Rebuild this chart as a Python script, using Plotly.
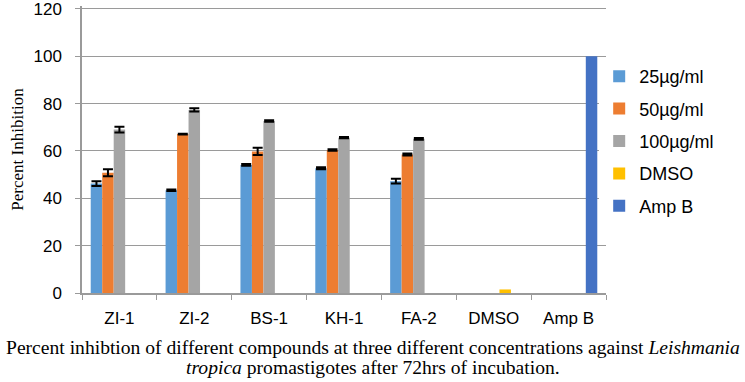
import plotly.graph_objects as go

categories = ["ZI-1", "ZI-2", "BS-1", "KH-1", "FA-2", "DMSO", "Amp B"]
series_names = ["25µg/ml", "50µg/ml", "100µg/ml", "DMSO", "Amp B"]
v25 = [46.2, 43.4, 54.1, 52.7, 47.2, None, None]
v50 = [50.8, 67.1, 59.8, 60.4, 58.5, None, None]
v100 = [69.0, 77.3, 72.6, 65.6, 65.1, None, None]
vdmso = [None, None, None, None, None, 1.5, None]
vampb = [None, None, None, None, None, None, 100]
e25 = [1.0, 0.3, 0.4, 0.4, 1.0, 0, 0]
e50 = [1.5, 0.2, 1.5, 0.3, 0.4, 0, 0]
e100 = [1.2, 0.7, 0.3, 0.3, 0.4, 0, 0]
colors = ["#5B9BD5", "#ED7D31", "#A5A5A5", "#FFC000", "#4472C4"]
caption1 = "Percent inhibtion of different compounds at three different concentrations against <i>Leishmania</i>"
caption2 = "<i>tropica</i> promastigotes after 72hrs of incubation."

fig = go.Figure()
vals = [v25, v50, v100, vdmso, vampb]
errs = [e25, e50, e100, None, None]
for i, (name, v, e, c) in enumerate(zip(series_names, vals, errs, colors)):
    kw = {}
    if e is not None:
        kw["error_y"] = dict(type="data", array=e, visible=True, color="black",
                             thickness=2, width=5)
    fig.add_trace(go.Bar(x=categories, y=v, name=name, marker_color=c,
                         marker_line_width=0, legendgroup=str(i), **kw))

L, R, T, B = 82, 139, 6, 89
W, H = 745, 382
PH = H - T - B
fig.update_layout(
    width=W, height=H,
    margin=dict(l=L, r=R, t=T, b=B, autoexpand=False),
    paper_bgcolor="white", plot_bgcolor="white",
    barmode="group", bargap=0.233, bargroupgap=0,
    font=dict(family="Liberation Sans", color="black"),
    legend=dict(x=0.987, y=1 - (58 - T) / PH, xanchor="left", yanchor="top",
                font=dict(size=18, family="Liberation Sans"),
                tracegroupgap=6, itemsizing="constant"),
    xaxis=dict(showline=True, linecolor="#9a9a9a", linewidth=1.5,
               ticks="outside", tickson="boundaries", ticklen=5,
               tickcolor="#9a9a9a", tickfont=dict(size=17),
               ticklabelstandoff=9, showgrid=False, automargin=False),
    yaxis=dict(range=[0, 121.2], tickvals=[0, 20, 40, 60, 80, 100, 120],
               showline=True, linecolor="#9a9a9a",
               linewidth=1.5, ticks="outside", ticklen=5, tickcolor="#9a9a9a",
               gridcolor="#9a9a9a", gridwidth=1.2, tickfont=dict(size=17),
               ticklabelstandoff=10, ticklabeloverflow="allow",
               zeroline=False, automargin=False,
               title=dict(text="Percent Inhibition", standoff=6,
                          font=dict(family="Liberation Serif", size=17))),
)
cx = (W / 2 - L) / (W - L - R)
fig.add_annotation(
    xref="paper", yref="paper", x=cx, y=-(347 - (H - B)) / PH,
    xanchor="center", yanchor="middle", showarrow=False,
    text=caption1, font=dict(family="Liberation Serif", size=19.6, color="black"),
)
fig.add_annotation(
    xref="paper", yref="paper", x=cx, y=-(367 - (H - B)) / PH,
    xanchor="center", yanchor="middle", showarrow=False,
    text=caption2, font=dict(family="Liberation Serif", size=19.6, color="black"),
)
fig.write_html("out.html", config={"displayModeBar": False},
               post_script="document.body.style.margin='0';document.body.style.overflow='hidden';")
